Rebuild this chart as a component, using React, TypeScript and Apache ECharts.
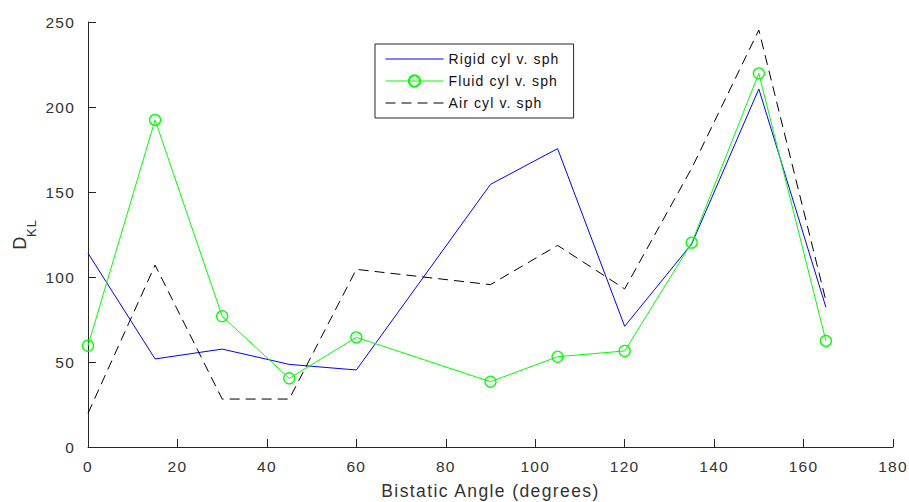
import React, { useEffect, useRef } from "react";
import * as echarts from "echarts";

const angles = [0, 15, 30, 45, 60, 90, 105, 120, 135, 150, 165];
const rigid = [114, 51.8, 57.6, 48.6, 45.3, 154.5, 175.5, 71, 119.5, 210.6, 82.2];
const fluid = [59.6, 192.4, 76.9, 40.4, 64.5, 38.4, 53.1, 56.5, 120.2, 219.8, 62.4];
const air = [19.8, 107, 28.2, 28.2, 104.5, 95.5, 118.6, 93, 164, 245.3, 86];
const seriesNames = ["Rigid cyl v. sph", "Fluid cyl v. sph", "Air cyl v. sph"];
const xTicks = { min: 0, max: 180, interval: 20 };
const yTicks = { min: 0, max: 250, interval: 50 };

const pair = (vals: number[]) => angles.map((a, i) => [a, vals[i]]);

export default function App() {
  const ref = useRef<HTMLDivElement>(null);
  useEffect(() => {
    if (!ref.current) return;
    const chart = echarts.init(ref.current, undefined, { renderer: "svg" });
    const font = "'Liberation Sans', Arial, Helvetica, sans-serif";
    const axisColor = "#333333";
    chart.setOption({
      animation: false,
      backgroundColor: "#ffffff",
      textStyle: { fontFamily: font },
      grid: { left: 88, right: 16, top: 22, bottom: 55, containLabel: false, outerBoundsMode: "none" },
      legend: {
        orient: "vertical",
        left: 375,
        top: 44,
        padding: [8, 32, 8, 10],
        itemGap: 8,
        itemWidth: 58,
        itemHeight: 14,
        borderColor: "#262626",
        borderWidth: 1,
        backgroundColor: "#ffffff",
        borderRadius: 0,
        lineStyle: { width: 1 },
        textStyle: { fontFamily: font, fontSize: 14, color: "#111" },
        data: [
          { name: seriesNames[0], itemStyle: { opacity: 0 }, lineStyle: { width: 1 } },
          { name: seriesNames[1], lineStyle: { width: 1 } },
          { name: seriesNames[2], itemStyle: { opacity: 0 }, lineStyle: { width: 1 } },
        ],
      },
      xAxis: {
        type: "value",
        min: xTicks.min,
        max: xTicks.max,
        interval: xTicks.interval,
        name: "Bistatic Angle (degrees)",
        nameLocation: "middle",
        nameGap: 35,
        nameTextStyle: { fontFamily: font, fontSize: 17.5, color: axisColor },
        axisLine: { show: true, onZero: false, lineStyle: { color: "#262626", width: 1 } },
        axisTick: { show: true, inside: true, length: 8, lineStyle: { color: "#262626" } },
        axisLabel: { margin: 11, fontSize: 15.5, color: axisColor, fontFamily: font },
        splitLine: { show: false },
      },
      yAxis: {
        type: "value",
        min: yTicks.min,
        max: yTicks.max,
        interval: yTicks.interval,
        name: "{a|D}{b|KL}",
        nameLocation: "middle",
        nameGap: 50,
        nameTextStyle: {
          fontFamily: font,
          color: axisColor,
          rich: {
            a: { fontSize: 18, fontFamily: font, color: axisColor, lineHeight: 22, verticalAlign: "top" },
            b: { fontSize: 13, fontFamily: font, color: axisColor, lineHeight: 22, padding: [14, 0, 0, 0], verticalAlign: "top" },
          },
        },
        axisLine: { show: true, lineStyle: { color: "#262626", width: 1 } },
        axisTick: { show: true, inside: true, length: 8, lineStyle: { color: "#262626" } },
        axisLabel: { margin: 13, fontSize: 15.5, color: axisColor, fontFamily: font },
        splitLine: { show: false },
      },
      series: [
        {
          name: seriesNames[0],
          type: "line",
          data: pair(rigid),
          symbol: "none",
          lineStyle: { color: "#0000ff", width: 1 },
          itemStyle: { color: "#0000ff" },
        },
        {
          name: seriesNames[1],
          type: "line",
          data: pair(fluid),
          symbol: "circle",
          symbolSize: 11,
          lineStyle: { color: "#00ff00", width: 1 },
          itemStyle: { color: "rgba(0,0,0,0)", borderColor: "#00ff00", borderWidth: 1.3 },
        },
        {
          name: seriesNames[2],
          type: "line",
          data: pair(air),
          symbol: "none",
          lineStyle: { color: "#000000", width: 1, type: [10, 6] },
          itemStyle: { color: "#000000" },
        },
      ],
    });
    return () => chart.dispose();
  }, []);
  return (
    <>
      <style>{`.dkl-chart svg text { letter-spacing: 0.08em; }`}</style>
      <div
        ref={ref}
        className="dkl-chart"
        style={{ width: 909, height: 502, position: "absolute", left: 0, top: 0 }}
      />
    </>
  );
}
